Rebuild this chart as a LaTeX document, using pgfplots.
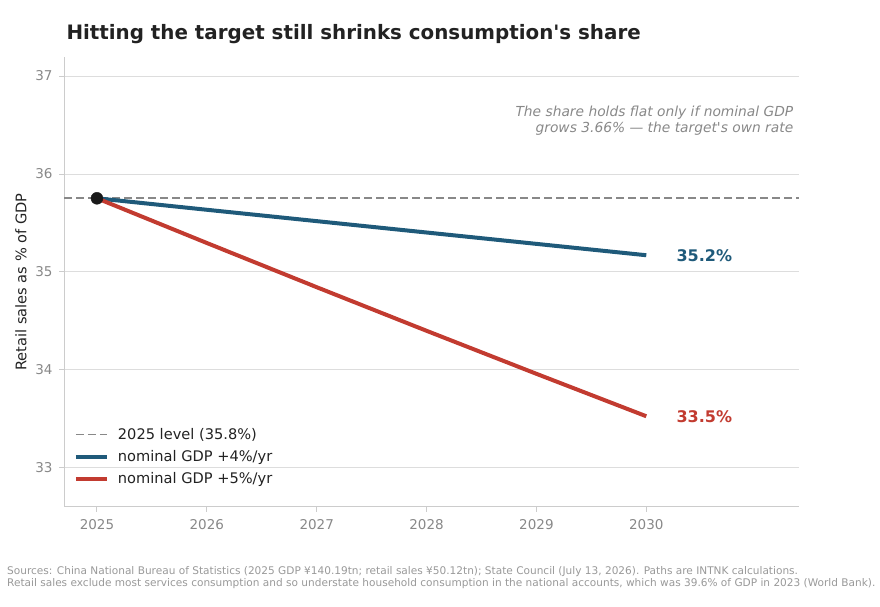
\documentclass[border=0pt]{standalone}
\usepackage{pgfplots}
\pgfplotsset{compat=1.18}
\usepackage{fontspec}
\setmainfont{DejaVu Sans}
\definecolor{cblue}{HTML}{1F5A7A}
\definecolor{cred}{HTML}{C23B30}
\definecolor{tickgray}{HTML}{888888}
\definecolor{gridgray}{HTML}{DDDDDD}
\definecolor{axgray}{HTML}{CCCCCC}
\definecolor{dashgray}{HTML}{888888}
\definecolor{foot}{HTML}{999999}
\definecolor{titlec}{HTML}{222222}
\begin{document}
\begin{tikzpicture}[x=1pt,y=1pt]
\path[use as bounding box] (0,0) rectangle (880,607);
\begin{axis}[
  at={(64pt,100pt)}, anchor=south west,
  scale only axis, width=735pt, height=450pt,
  xmin=2024.70, xmax=2031.39, ymin=32.602, ymax=37.194,
  xtick={2025,2026,2027,2028,2029,2030},
  ytick={33,34,35,36,37},
  xticklabel style={/pgf/number format/1000 sep={}},
  /pgf/number format/assume math mode=true,
  tick label style={font=\fontsize{13.5}{15}\selectfont, text=tickgray},
  axis x line*=bottom, axis y line*=left,
  axis line style={axgray, line width=1pt},
  tick style={axgray, line width=1pt},
  tick align=outside, major tick length=5pt,
  ymajorgrids, grid style={gridgray, line width=1pt},
  xticklabel style={yshift=-4pt},
  yticklabel style={xshift=-3pt},
  legend style={at={(rel axis cs:0.0092,0.0395)}, anchor=south west, draw=none, fill=none,
    font=\fontsize{14.6}{16}\selectfont, row sep=5.5pt, text=titlec},
  legend cell align=left,
  legend image code/.code={\draw[#1] (0pt,0pt) -- (31pt,0pt); \path (38pt,0pt);},
  clip=false,
]
\addplot[dashgray, line width=1.9pt, dash pattern=on 8pt off 4pt] coordinates {(2024.70,35.752) (2031.39,35.752)};
\addlegendentry{2025 level (35.8\%)}
\addplot[cblue, line width=4pt] coordinates {
 (2025,35.752) (2026,35.635) (2027,35.519) (2028,35.403) (2029,35.287) (2030,35.171)};
\addlegendentry{nominal GDP +4\%/yr}
\addplot[cred, line width=4pt] coordinates {
 (2025,35.752) (2026,35.296) (2027,34.845) (2028,34.400) (2029,33.961) (2030,33.528)};
\addlegendentry{nominal GDP +5\%/yr}
\addplot[only marks, mark=*, mark size=6pt, color=black!90, forget plot] coordinates {(2025,35.752)};
\node[anchor=west, text=cblue, font=\bfseries\fontsize{16}{18}\selectfont] at (axis cs:2030.243,35.171) {35.2\%};
\node[anchor=west, text=cred, font=\bfseries\fontsize{16}{18}\selectfont] at (axis cs:2030.243,33.528) {33.5\%};
\node[anchor=north east, align=right, text=tickgray, font=\itshape\fontsize{13.8}{16}\selectfont] at (rel axis cs:0.997,0.9) {The share holds flat only if nominal GDP\\grows 3.66\% — the target\textquotesingle s own rate};
\end{axis}
\node[anchor=base west, text=titlec, font=\bfseries\fontsize{19.85}{22}\selectfont] at (63,567) {Hitting the target still shrinks consumption\textquotesingle s share};
\node[rotate=90, text=titlec, font=\fontsize{14.6}{16}\selectfont] at (21,325) {Retail sales as \% of GDP};
\node[anchor=north west, align=left, text=foot, font=\fontsize{10.55}{12}\selectfont, inner sep=0pt] at (7,41) {Sources: China National Bureau of Statistics (2025 GDP ¥140.19tn; retail sales ¥50.12tn); State Council (July 13, 2026). Paths are INTNK calculations.\\Retail sales exclude most services consumption and so understate household consumption in the national accounts, which was 39.6\% of GDP in 2023 (World Bank).};
\end{tikzpicture}
\end{document}
